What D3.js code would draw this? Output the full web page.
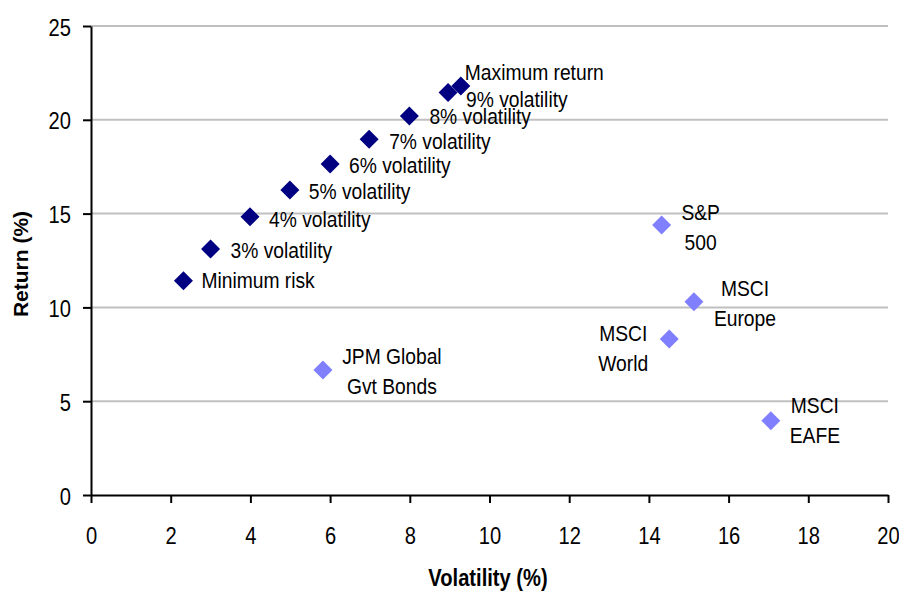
<!DOCTYPE html>
<html>
<head>
<meta charset="utf-8">
<script src="https://cdn.jsdelivr.net/npm/d3@7"></script>
<style>
  body { margin: 0; background: #fff; }
  text { font-family: "Liberation Sans", Arial, sans-serif; }
</style>
</head>
<body>
<script>
var W = 899, H = 592;

// efficient frontier portfolios
var frontierLabels = ["Minimum risk", "3% volatility", "4% volatility", "5% volatility",
  "6% volatility", "7% volatility", "8% volatility", "9% volatility", "Maximum return"];
var frontierVol = [2.32, 3.0, 3.99, 4.99, 6.0, 6.98, 7.99, 8.96, 9.28];
var frontierRet = [11.42, 13.11, 14.83, 16.26, 17.64, 18.96, 20.2, 21.46, 21.8];

// market indices
var indexLabels = [["S&P", "500"], ["MSCI", "Europe"], ["MSCI", "World"], ["JPM Global", "Gvt Bonds"], ["MSCI", "EAFE"]];
var indexVol = [14.32, 15.13, 14.51, 5.82, 17.06];
var indexRet = [14.39, 10.3, 8.32, 6.66, 3.96];

var xTicks = [0, 2, 4, 6, 8, 10, 12, 14, 16, 18, 20];
var yTicks = [0, 5, 10, 15, 20, 25];

// label placement (pixel offsets from the marker)
var frontierOffset = [[18, 7], [20, 9], [19, 10], [19, 9], [19, 9], [20, 10], [20, 8], [18, 15], [4, -6]];
var indexOffset = [[39, -5], [51, -6], [-46, 2], [69, -6], [44, -8]];

var sx = 0.875; // text is a bit condensed in the original
var dark = "#000080", light = "#8080FF";

var svg = d3.select("body").append("svg")
    .attr("width", W)
    .attr("height", H);

var x = d3.scaleLinear().domain([0, 20]).range([91, 888]);
var y = d3.scaleLinear().domain([0, 25]).range([495, 26]);

// gridlines
svg.selectAll("line.grid")
    .data(yTicks.filter(function (d) { return d > 0; }))
    .enter().append("line")
    .attr("class", "grid")
    .attr("x1", x(0)).attr("x2", x(20))
    .attr("y1", function (d) { return y(d); })
    .attr("y2", function (d) { return y(d); })
    .style("stroke", "#c0c0c0")
    .style("stroke-width", 2);

// axes
var xAxis = svg.append("g")
    .attr("transform", "translate(0," + y(0) + ")")
    .call(d3.axisBottom(x).tickValues(xTicks).tickSize(8).tickSizeOuter(0).tickFormat(d3.format("d")));
var yAxis = svg.append("g")
    .attr("transform", "translate(" + x(0) + ",0)")
    .call(d3.axisLeft(y).tickValues(yTicks).tickSize(8).tickSizeOuter(0).tickFormat(d3.format("d")));

[xAxis, yAxis].forEach(function (g) {
  g.select(".domain").style("stroke", "#000").style("stroke-width", 2);
  g.selectAll(".tick line").style("stroke", "#000").style("stroke-width", 2);
  g.selectAll(".tick text")
      .style("font-size", "23px")
      .style("fill", "#000")
      .attr("dy", null)
      .attr("transform", "scale(" + sx + ",1)");
});
xAxis.selectAll(".tick text").attr("y", 49);
yAxis.selectAll(".tick text").attr("x", -20 / sx).attr("y", 9);

// axis titles
svg.append("text")
    .attr("transform", "translate(488,586) scale(" + sx + ",1)")
    .attr("text-anchor", "middle")
    .style("font-size", "23px")
    .style("font-weight", "bold")
    .text("Volatility (%)");

svg.append("text")
    .attr("transform", "translate(28,264) rotate(-90)")
    .attr("text-anchor", "middle")
    .style("font-size", "21px")
    .style("font-weight", "bold")
    .text("Return (%)");

var diamond = "M0,-9.5L9.5,0L0,9.5L-9.5,0Z";

// index markers + labels
var idx = indexVol.map(function (v, i) { return { vol: v, ret: indexRet[i], label: indexLabels[i], off: indexOffset[i] }; });

svg.selectAll("path.index")
    .data(idx)
    .enter().append("path")
    .attr("class", "index")
    .attr("d", diamond)
    .attr("transform", function (d) { return "translate(" + x(d.vol) + "," + y(d.ret) + ")"; })
    .style("fill", light);

var idxLab = svg.selectAll("g.indexLabel")
    .data(idx)
    .enter().append("g")
    .attr("class", "indexLabel")
    .attr("transform", function (d) {
      return "translate(" + (x(d.vol) + d.off[0]) + "," + (y(d.ret) + d.off[1]) + ") scale(" + sx + ",1)";
    });
idxLab.selectAll("text")
    .data(function (d) { return d.label; })
    .enter().append("text")
    .attr("y", function (d, i) { return i * 30; })
    .attr("text-anchor", "middle")
    .style("font-size", "22px")
    .text(function (d) { return d; });

// frontier markers + labels
var front = frontierVol.map(function (v, i) { return { vol: v, ret: frontierRet[i], label: frontierLabels[i], off: frontierOffset[i] }; });

svg.selectAll("path.frontier")
    .data(front)
    .enter().append("path")
    .attr("class", "frontier")
    .attr("d", diamond)
    .attr("transform", function (d) { return "translate(" + x(d.vol) + "," + y(d.ret) + ")"; })
    .style("fill", dark);

svg.selectAll("text.frontierLabel")
    .data(front)
    .enter().append("text")
    .attr("class", "frontierLabel")
    .attr("transform", function (d) {
      return "translate(" + (x(d.vol) + d.off[0]) + "," + (y(d.ret) + d.off[1]) + ") scale(" + sx + ",1)";
    })
    .style("font-size", "22px")
    .text(function (d) { return d.label; });
</script>
</body>
</html>
